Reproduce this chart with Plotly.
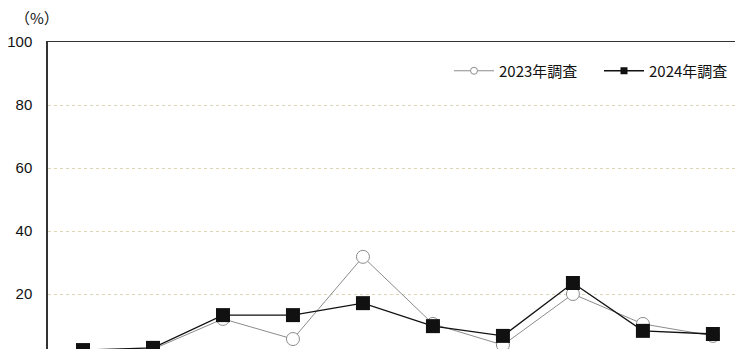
import plotly.graph_objects as go

# 10 survey items (x categories are cut off below the visible area)
categories = ["項目1", "項目2", "項目3", "項目4", "項目5",
              "項目6", "項目7", "項目8", "項目9", "項目10"]
survey_2023 = [1.0, 2.5, 12.1, 5.7, 31.8, 10.5, 3.8, 20.0, 10.5, 6.7]
survey_2024 = [2.2, 2.9, 13.3, 13.3, 17.1, 9.8, 6.7, 23.5, 8.3, 7.3]
series_names = ["2023年調査", "2024年調査"]
y_ticks = [20, 40, 60, 80, 100]

font_family = "Noto Sans CJK JP, Liberation Sans, sans-serif"
gray = "#8c8c8c"
black = "#111111"

fig = go.Figure()

fig.add_trace(go.Scatter(
    x=categories, y=survey_2023, name=series_names[0],
    mode="lines+markers", showlegend=False,
    line=dict(color=gray, width=1),
    marker=dict(symbol="circle", size=13, color="white",
                line=dict(color=gray, width=1)),
))
fig.add_trace(go.Scatter(
    x=categories, y=survey_2024, name=series_names[1],
    mode="lines+markers", showlegend=False,
    line=dict(color=black, width=1.3),
    marker=dict(symbol="square", size=14, color=black),
))

# legend entries with the small markers used in the reference key
fig.add_trace(go.Scatter(
    x=[None], y=[None], name=series_names[0], mode="lines+markers",
    legend="legend",
    line=dict(color=gray, width=1),
    marker=dict(symbol="circle", size=7, color="white", line=dict(color=gray, width=1)),
))
fig.add_trace(go.Scatter(
    x=[None], y=[None], name=series_names[1], mode="lines+markers",
    legend="legend2",
    line=dict(color=black, width=1.3),
    marker=dict(symbol="square", size=7, color=black),
))

fig.add_annotation(
    text="（%）", xref="paper", yref="paper", x=-35 / 695, y=1 + 24 / 307,
    xanchor="left", yanchor="middle", showarrow=False,
    font=dict(size=15, color="#111111", family=font_family),
)

legend_style = dict(
    orientation="h", xanchor="left", y=1 - 29 / 307, yanchor="middle",
    font=dict(size=15, color="#111111"), bgcolor="rgba(0,0,0,0)",
    itemwidth=40,
)

fig.update_layout(
    width=735, height=341,
    margin=dict(l=40, r=0, t=34, b=0),
    paper_bgcolor="white", plot_bgcolor="white",
    font=dict(family=font_family, color="#111111"),
    showlegend=True,
    legend=dict(x=(449 - 48) / 695, **legend_style),
    legend2=dict(x=(599 - 48) / 695, **legend_style),
    xaxis=dict(
        type="category", range=[-0.5, 9.43], side="top",
        showline=True, linecolor="#333333", linewidth=1,
        showticklabels=False, ticks="", showgrid=False, zeroline=False,
    ),
    yaxis=dict(
        range=[2.54, 100], tickvals=y_ticks,
        showline=True, linecolor="#333333", linewidth=1.5,
        ticks="", ticklabelstandoff=11,
        tickfont=dict(size=15, color="#111111", family="Liberation Sans, Arial, sans-serif"),
        showgrid=True, gridcolor="#ddd6b4", gridwidth=1, griddash="3px,3px",
        zeroline=False,
    ),
)

fig.write_html("out.html")
